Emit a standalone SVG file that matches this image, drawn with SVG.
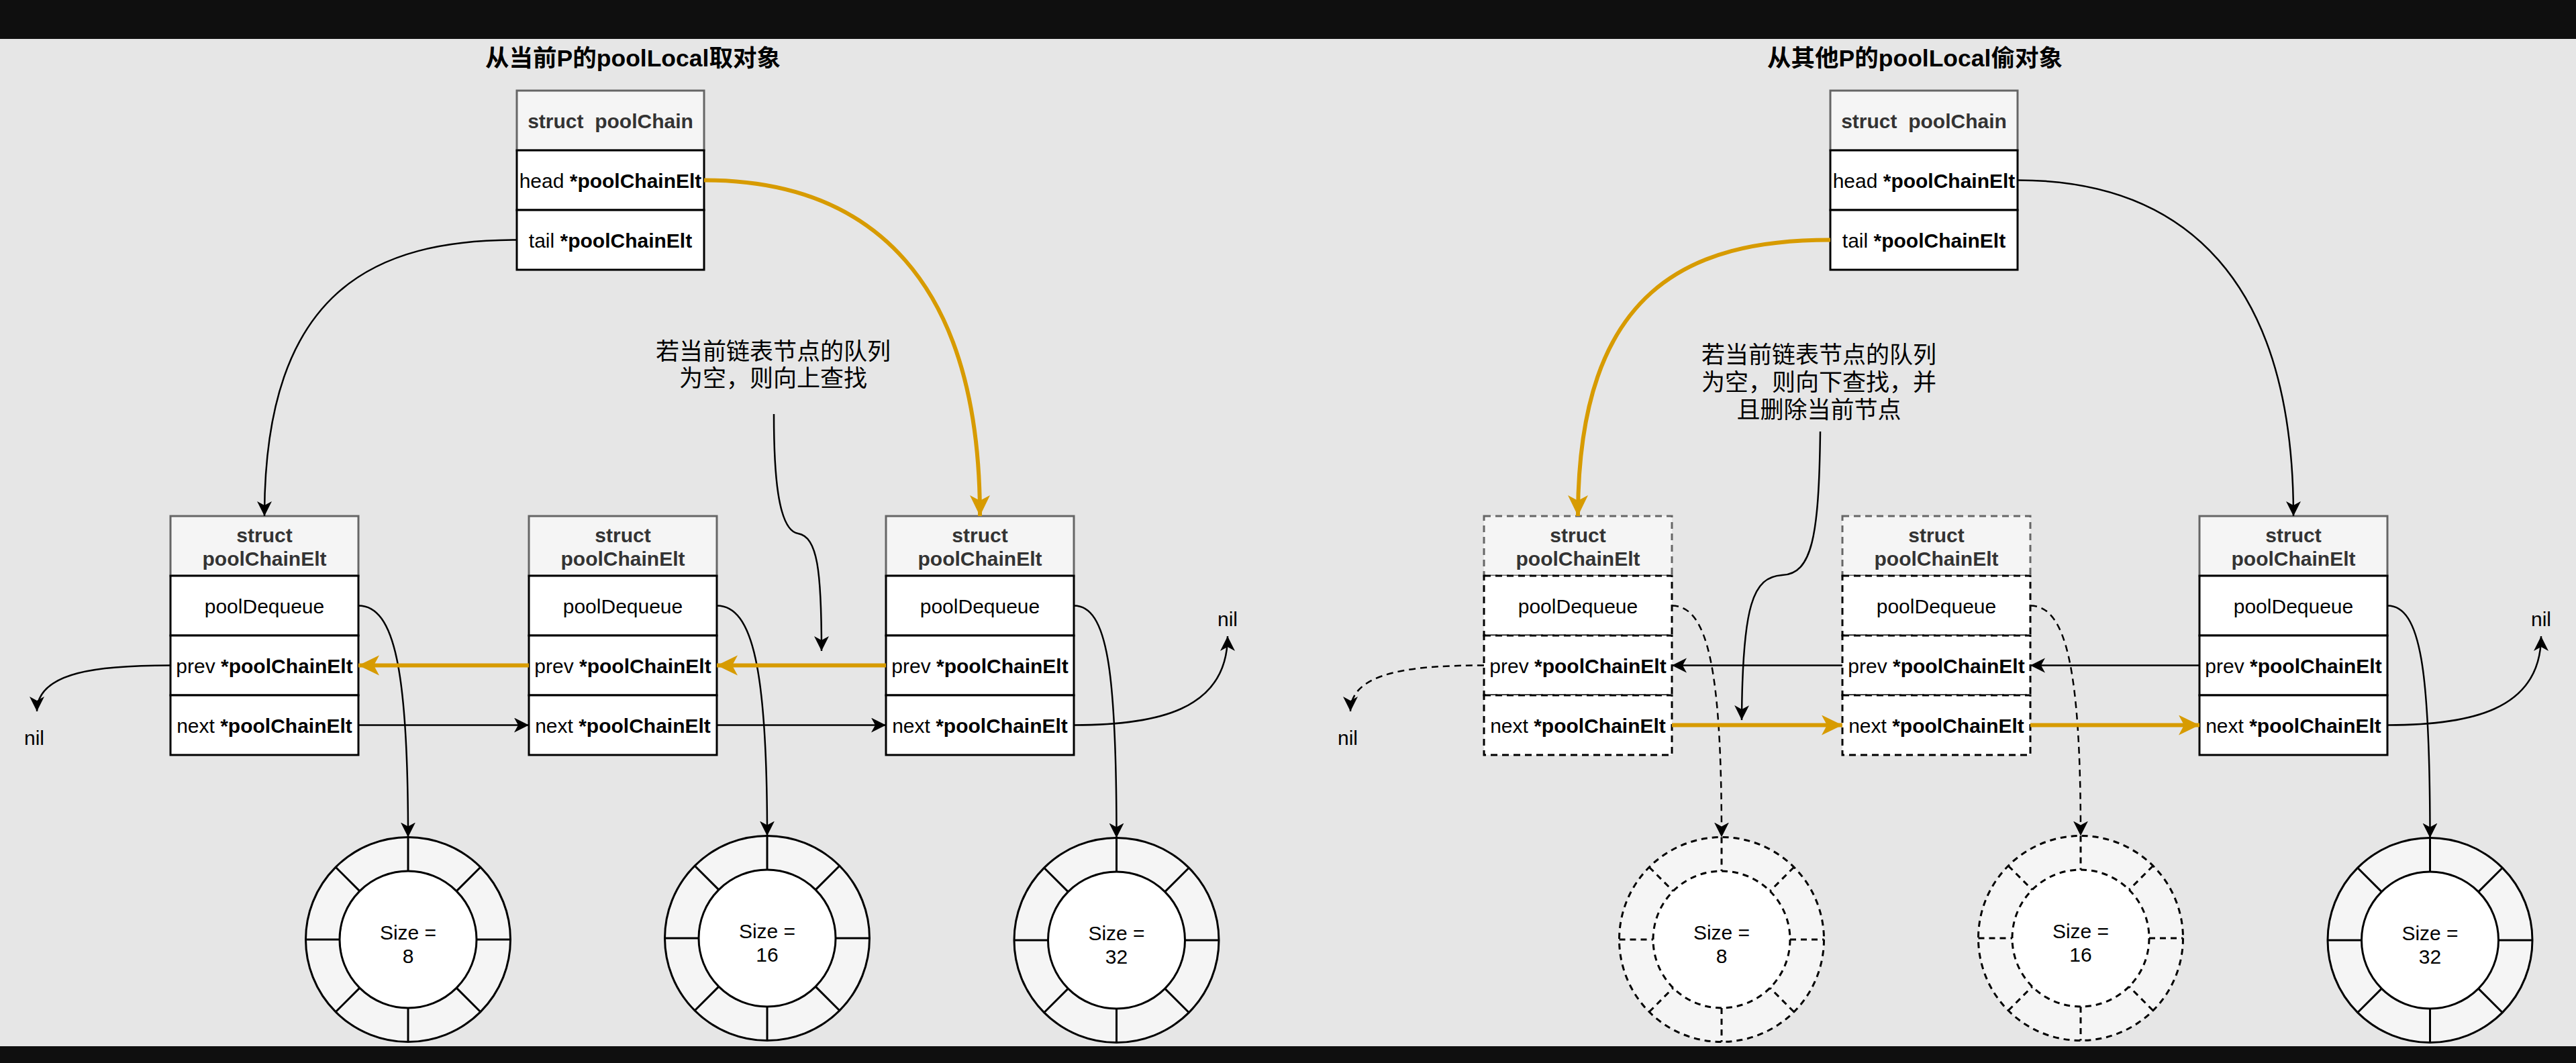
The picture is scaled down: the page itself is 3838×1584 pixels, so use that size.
<svg xmlns="http://www.w3.org/2000/svg" xmlns:xlink="http://www.w3.org/1999/xlink" width="3838" height="1584" viewBox="0 0 3838 1584">
<style>
.t{font-family:"Liberation Sans",Arial,"Noto Sans CJK SC",sans-serif;font-size:30px;fill:#000;text-anchor:middle}
.hd{font-weight:bold;fill:#333}
.b{font-weight:bold}
.title{font-size:35.5px;font-weight:bold}
.cjk{font-family:"Noto Sans CJK SC","Liberation Sans",sans-serif;font-size:35px;fill:#000;text-anchor:middle}
.hdr{fill:#f5f5f5;stroke:#666;stroke-width:3}
.row{fill:#fff;stroke:#000;stroke-width:3}
.dash rect{stroke-dasharray:10 7}
.ring{stroke:#000;stroke-width:3}
.ring.dashed{stroke-dasharray:9 7}
.c{fill:none;stroke:#000;stroke-width:2.5}
.o{fill:none;stroke:#d79b00;stroke-width:6}
.d{stroke-dasharray:10 7}
.ab{marker-end:url(#ab)}
.ao{marker-end:url(#ao)}
</style>
<defs>
<marker id="ab" markerWidth="24" markerHeight="24" refX="22" refY="11" orient="auto" markerUnits="userSpaceOnUse">
<path d="M0,0 L22,11 L0,22 L6,11 Z" fill="#000"/>
</marker>
<marker id="ao" markerWidth="34" markerHeight="32" refX="31" refY="15" orient="auto" markerUnits="userSpaceOnUse">
<path d="M0,0 L31,15 L0,30 L8,15 Z" fill="#d79b00"/>
</marker>
<g id="ringShape">
<circle r="152.5" fill="#f5f5f5"/>
<path fill="none" d="M0,-152.5 V-102 M0,102 V152.5 M-152.5,0 H-102 M102,0 H152.5 M-107.8,-107.8 L-72.1,-72.1 M107.8,-107.8 L72.1,-72.1 M-107.8,107.8 L-72.1,72.1 M107.8,107.8 L72.1,72.1"/>
<circle r="102" fill="#fff"/>
</g>
</defs>

<rect x="0" y="0" width="3838" height="1584" fill="#0f0f0f"/>
<rect x="0" y="58" width="3838" height="1501" fill="#e6e6e6"/>

<g id="titles">
<text class="t title" x="943" y="99">从当前P的poolLocal取对象</text>
<text class="t title" x="2853" y="99">从其他P的poolLocal偷对象</text>
</g>

<g id="notes">
<g id="note-L">
<text class="cjk" x="1152" y="536">若当前链表节点的队列</text>
<text class="cjk" x="1152" y="576">为空，则向上查找</text>
</g>
<g id="note-R">
<text class="cjk" x="2710" y="541">若当前链表节点的队列</text>
<text class="cjk" x="2710" y="582">为空，则向下查找，并</text>
<text class="cjk" x="2710" y="623">且删除当前节点</text>
</g>
</g>

<g id="poolChain-L" transform="translate(770,135)">
<rect class="hdr" x="0" y="0" width="279" height="89"/>
<rect class="row" x="0" y="89" width="279" height="89"/>
<rect class="row" x="0" y="178" width="279" height="89"/>
<text class="t hd" x="139.5" y="56">struct&#160; poolChain</text>
<text class="t" x="139.5" y="144.5">head <tspan class="b">*poolChainElt</tspan></text>
<text class="t" x="139.5" y="233.5">tail <tspan class="b">*poolChainElt</tspan></text>
</g>
<g id="poolChain-R" transform="translate(2727,135)">
<rect class="hdr" x="0" y="0" width="279" height="89"/>
<rect class="row" x="0" y="89" width="279" height="89"/>
<rect class="row" x="0" y="178" width="279" height="89"/>
<text class="t hd" x="139.5" y="56">struct&#160; poolChain</text>
<text class="t" x="139.5" y="144.5">head <tspan class="b">*poolChainElt</tspan></text>
<text class="t" x="139.5" y="233.5">tail <tspan class="b">*poolChainElt</tspan></text>
</g>

<g id="elt-L1" transform="translate(254,769)">
<rect class="hdr" x="0" y="0" width="280" height="89"/>
<rect class="row" x="0" y="89" width="280" height="89"/>
<rect class="row" x="0" y="178" width="280" height="89"/>
<rect class="row" x="0" y="267" width="280" height="89"/>
<text class="t hd" x="140" y="39">struct</text>
<text class="t hd" x="140" y="74">poolChainElt</text>
<text class="t" x="140" y="144.5">poolDequeue</text>
<text class="t" x="140" y="233.5">prev <tspan class="b">*poolChainElt</tspan></text>
<text class="t" x="140" y="322.5">next <tspan class="b">*poolChainElt</tspan></text>
</g>
<g id="elt-L2" transform="translate(788,769)">
<rect class="hdr" x="0" y="0" width="280" height="89"/>
<rect class="row" x="0" y="89" width="280" height="89"/>
<rect class="row" x="0" y="178" width="280" height="89"/>
<rect class="row" x="0" y="267" width="280" height="89"/>
<text class="t hd" x="140" y="39">struct</text>
<text class="t hd" x="140" y="74">poolChainElt</text>
<text class="t" x="140" y="144.5">poolDequeue</text>
<text class="t" x="140" y="233.5">prev <tspan class="b">*poolChainElt</tspan></text>
<text class="t" x="140" y="322.5">next <tspan class="b">*poolChainElt</tspan></text>
</g>
<g id="elt-L3" transform="translate(1320,769)">
<rect class="hdr" x="0" y="0" width="280" height="89"/>
<rect class="row" x="0" y="89" width="280" height="89"/>
<rect class="row" x="0" y="178" width="280" height="89"/>
<rect class="row" x="0" y="267" width="280" height="89"/>
<text class="t hd" x="140" y="39">struct</text>
<text class="t hd" x="140" y="74">poolChainElt</text>
<text class="t" x="140" y="144.5">poolDequeue</text>
<text class="t" x="140" y="233.5">prev <tspan class="b">*poolChainElt</tspan></text>
<text class="t" x="140" y="322.5">next <tspan class="b">*poolChainElt</tspan></text>
</g>
<g id="elt-R1" class="dash" transform="translate(2211,769)">
<rect class="hdr" x="0" y="0" width="280" height="89"/>
<rect class="row" x="0" y="89" width="280" height="89"/>
<rect class="row" x="0" y="178" width="280" height="89"/>
<rect class="row" x="0" y="267" width="280" height="89"/>
<text class="t hd" x="140" y="39">struct</text>
<text class="t hd" x="140" y="74">poolChainElt</text>
<text class="t" x="140" y="144.5">poolDequeue</text>
<text class="t" x="140" y="233.5">prev <tspan class="b">*poolChainElt</tspan></text>
<text class="t" x="140" y="322.5">next <tspan class="b">*poolChainElt</tspan></text>
</g>
<g id="elt-R2" class="dash" transform="translate(2745,769)">
<rect class="hdr" x="0" y="0" width="280" height="89"/>
<rect class="row" x="0" y="89" width="280" height="89"/>
<rect class="row" x="0" y="178" width="280" height="89"/>
<rect class="row" x="0" y="267" width="280" height="89"/>
<text class="t hd" x="140" y="39">struct</text>
<text class="t hd" x="140" y="74">poolChainElt</text>
<text class="t" x="140" y="144.5">poolDequeue</text>
<text class="t" x="140" y="233.5">prev <tspan class="b">*poolChainElt</tspan></text>
<text class="t" x="140" y="322.5">next <tspan class="b">*poolChainElt</tspan></text>
</g>
<g id="elt-R3" transform="translate(3277,769)">
<rect class="hdr" x="0" y="0" width="280" height="89"/>
<rect class="row" x="0" y="89" width="280" height="89"/>
<rect class="row" x="0" y="178" width="280" height="89"/>
<rect class="row" x="0" y="267" width="280" height="89"/>
<text class="t hd" x="140" y="39">struct</text>
<text class="t hd" x="140" y="74">poolChainElt</text>
<text class="t" x="140" y="144.5">poolDequeue</text>
<text class="t" x="140" y="233.5">prev <tspan class="b">*poolChainElt</tspan></text>
<text class="t" x="140" y="322.5">next <tspan class="b">*poolChainElt</tspan></text>
</g>

<g id="deque-L1" transform="translate(608,1400)">
<use class="ring" href="#ringShape"/>
<text class="t" x="0" y="0">Size =</text>
<text class="t" x="0" y="35">8</text>
</g>
<g id="deque-L2" transform="translate(1143,1398)">
<use class="ring" href="#ringShape"/>
<text class="t" x="0" y="0">Size =</text>
<text class="t" x="0" y="35">16</text>
</g>
<g id="deque-L3" transform="translate(1663.5,1401)">
<use class="ring" href="#ringShape"/>
<text class="t" x="0" y="0">Size =</text>
<text class="t" x="0" y="35">32</text>
</g>
<g id="deque-R1" transform="translate(2565,1400)">
<use class="ring dashed" href="#ringShape"/>
<text class="t" x="0" y="0">Size =</text>
<text class="t" x="0" y="35">8</text>
</g>
<g id="deque-R2" transform="translate(3100,1398)">
<use class="ring dashed" href="#ringShape"/>
<text class="t" x="0" y="0">Size =</text>
<text class="t" x="0" y="35">16</text>
</g>
<g id="deque-R3" transform="translate(3620.5,1401)">
<use class="ring" href="#ringShape"/>
<text class="t" x="0" y="0">Size =</text>
<text class="t" x="0" y="35">32</text>
</g>

<g id="nils">
<text class="t" x="51" y="1110">nil</text>
<text class="t" x="1829" y="933">nil</text>
<text class="t" x="2008" y="1110">nil</text>
<text class="t" x="3786" y="933">nil</text>
</g>

<g id="connectors">
<path class="c ab" d="M770,357.5 C560,357.5 394,430 394,769"/>
<path class="o ao" d="M1049,268.5 C1300,268.5 1460,420 1460,769"/>
<path class="c ab" d="M1153,617 C1153,700 1158,790 1189,795 C1218,800 1224,850 1224,970"/>
<path class="c ab" d="M534,902.5 C588,902.5 608,1000 608,1247.5"/>
<path class="c ab" d="M1068,902.5 C1122,902.5 1143,1000 1143,1245.5"/>
<path class="c ab" d="M1600,902.5 C1650,902.5 1663.5,1000 1663.5,1248.5"/>
<path class="c ab" d="M534,1080.5 L788,1080.5"/>
<path class="c ab" d="M1068,1080.5 L1320,1080.5"/>
<path class="o ao" d="M788,991.5 L534,991.5"/>
<path class="o ao" d="M1320,991.5 L1068,991.5"/>
<path class="c ab" d="M254,991.5 C150,991.5 55,1000 55,1060"/>
<path class="c ab" d="M1600,1080.5 C1720,1080.5 1829,1060 1829,948"/>

<path class="o ao" d="M2727,357.5 C2517,357.5 2351,430 2351,769"/>
<path class="c ab" d="M3006,268.5 C3257,268.5 3417,420 3417,769"/>
<path class="c ab" d="M2712,643 C2710,800 2700,855 2655,857 C2612,860 2596,900 2595,1073"/>
<path class="c d ab" d="M2491,902.5 C2545,902.5 2565,1000 2565,1247.5"/>
<path class="c d ab" d="M3025,902.5 C3079,902.5 3100,1000 3100,1245.5"/>
<path class="c ab" d="M3557,902.5 C3607,902.5 3620.5,1000 3620.5,1248.5"/>
<path class="o ao" d="M2491,1080.5 L2745,1080.5"/>
<path class="o ao" d="M3025,1080.5 L3277,1080.5"/>
<path class="c ab" d="M2745,991.5 L2491,991.5"/>
<path class="c ab" d="M3277,991.5 L3025,991.5"/>
<path class="c d ab" d="M2211,991.5 C2107,991.5 2012,1000 2012,1060"/>
<path class="c ab" d="M3557,1080.5 C3677,1080.5 3786,1060 3786,948"/>
</g>
</svg>
